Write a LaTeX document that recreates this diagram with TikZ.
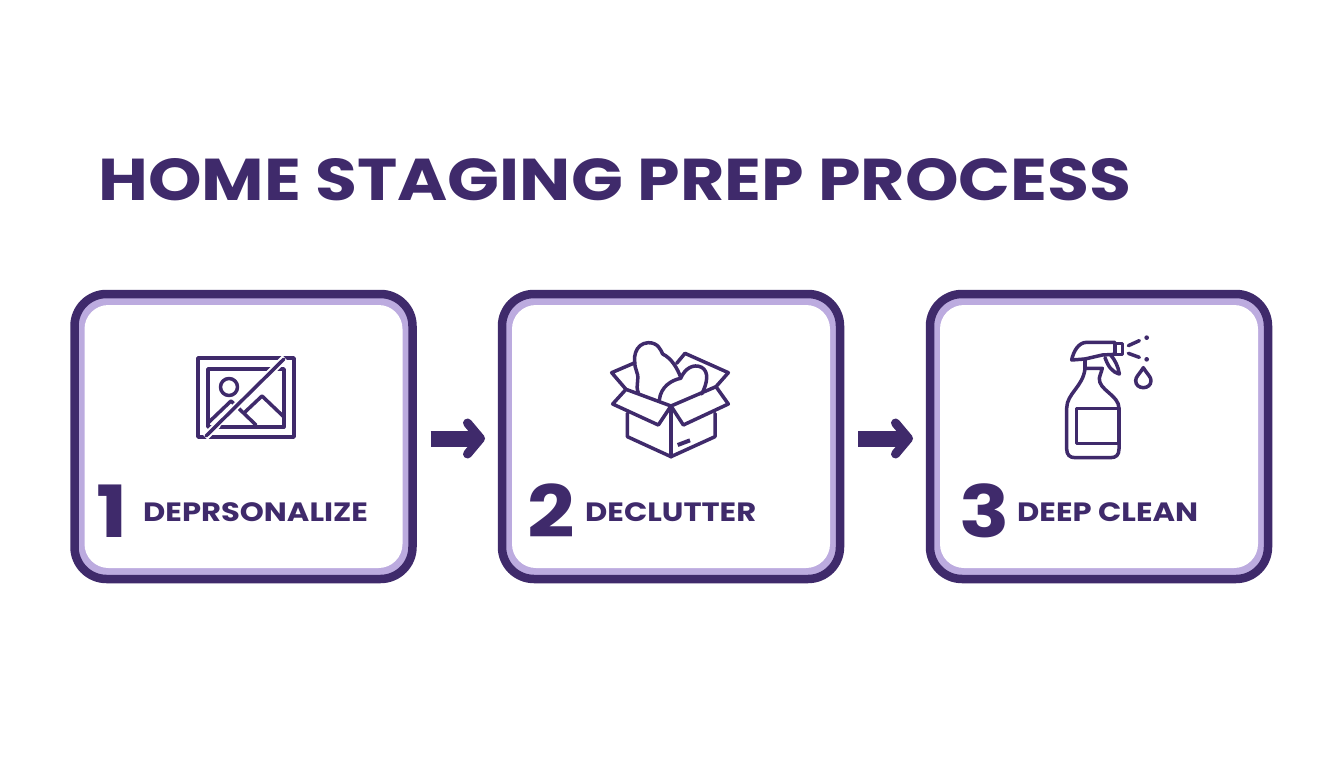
\documentclass[tikz,border=0pt]{standalone}
\usepackage{fontspec}
\setmainfont{Poppins}[FakeStretch=1.155]
\usetikzlibrary{arrows.meta}
\definecolor{plum}{HTML}{3F2A6B}
\definecolor{lav}{HTML}{BCABDF}
\tikzset{
  x=1pt,y=-1pt,
  card/.style={draw=plum,fill=lav,line width=8.5pt,rounded corners=32pt,minimum width=338pt,minimum height=285pt,outer sep=0pt,inner sep=0pt},
  cardin/.style={fill=white,rounded corners=24pt,minimum width=318pt,minimum height=263pt,outer sep=0pt,inner sep=0pt},
  flow/.style={plum,line width=16pt,-{Straight Barb[length=13pt,width=31pt,line width=9pt,round,line join=round]}},
  icon/.style={plum,line width=3.5pt,line join=round,line cap=round},
  title/.style={plum,anchor=base west,inner sep=0pt,font=\fontsize{59}{59}\selectfont\bfseries},
  num/.style={plum,anchor=base west,inner sep=0pt,font=\fontsize{72}{72}\selectfont\bfseries},
  lbl/.style={plum,anchor=base west,inner sep=0pt,font=\fontsize{26.5}{26.5}\selectfont\bfseries},
}
\begin{document}
\begin{tikzpicture}
\useasboundingbox[fill=white] (0,0) rectangle (1344,768);
\node[title] (ttl) at (98,200) {HOME STAGING PREP PROCESS};
\node[card] (c1) at (243.5,436.5) {};
\node[card] (c2) at (671,436.5) {};
\node[card] (c3) at (1099,436.5) {};
\node[cardin] (w1) at (c1) {};
\node[cardin] (w2) at (c2) {};
\node[cardin] (w3) at (c3) {};
\draw[flow] ([xshift=18pt,yshift=-2pt]c1.east) -- ([xshift=-17pt,yshift=-2pt]c2.west);
\draw[flow] ([xshift=18pt,yshift=-2pt]c2.east) -- ([xshift=-17pt,yshift=-2pt]c3.west);
% picture icon
\begin{scope}[icon]
\draw (198,358) rectangle (294,437);
\draw (208,369) rectangle (284,427);
\draw (229,387) circle (8.5);
\draw (208,423) -- (231,401) -- (256,425);
\draw (245,412) -- (262,396) -- (284,417);
\draw[white,line width=7.5pt,line cap=butt] (285,358) -- (205,437);
\draw (284,359) -- (206,436);
\draw (222,427) -- (284,427);
\end{scope}
% box icon
\begin{scope}[icon,shift={(590,330)},scale=1/3]
\draw (112,250) -- (112,320) -- (243,380) -- (375,320) -- (375,250);
\draw (243,228) -- (243,380);
\draw (243,228) -- (205,285) -- (68,222) -- (108,178) -- cycle;
\draw (243,228) -- (280,285) -- (415,222) -- (378,170) -- cycle;
\draw (108,178) -- (65,128) -- (135,98);
\draw (260,100) -- (285,70) -- (415,128) -- (378,170);
\draw (145,188) .. controls (135,165) and (150,150) .. (140,125) .. controls (125,85) and (135,40) .. (175,38) .. controls (205,38) and (212,60) .. (218,72) .. controls (245,85) and (262,115) .. (272,142);
\draw (208,210) .. controls (212,170) and (245,150) .. (272,145) .. controls (285,115) and (310,100) .. (335,112) .. controls (358,125) and (352,160) .. (335,192);
\draw[line width=4pt,line cap=butt] (263,345) -- (300,331);
\end{scope}
% spray icon
\begin{scope}[icon,shift={(1040,325)},scale=1/3]
\draw (135,130) .. controls (130,185) and (80,205) .. (80,250) -- (80,372) .. controls (80,390) and (90,398) .. (105,398) -- (212,398) .. controls (228,398) and (237,390) .. (237,372) -- (237,250) .. controls (237,210) and (175,195) .. (178,160) .. controls (180,148) and (185,140) .. (187,130) -- cycle;
\draw (110,250) rectangle (237,355);
\draw (135,130) -- (135,102);
\draw (135,102) -- (95,105) .. controls (100,80) and (115,52) .. (140,52) -- (225,52) -- (225,88) -- (187,90) -- (135,102);
\draw (225,55) rectangle (248,88);
\draw (195,98) .. controls (205,125) and (215,140) .. (238,147) .. controls (235,125) and (225,105) .. (212,90);
\draw (265,62) -- (298,47);
\draw (265,85) -- (298,97);
\fill (320,38) circle (7);
\fill (320,103) circle (7);
\draw (310,128) .. controls (298,148) and (287,155) .. (287,167) .. controls (287,195) and (333,195) .. (333,167) .. controls (333,155) and (322,148) .. (310,128) -- cycle;
\end{scope}
\node[num] (n1) at (96,537) {1};
\node[lbl] (l1) at (143,521) {DEPRSONALIZE};
\node[num] (n2) at (527,537) {2};
\node[lbl] (l2) at (585,521) {DECLUTTER};
\node[num] (n3) at (959,537) {3};
\node[lbl] (l3) at (1017,521) {DEEP CLEAN};
\end{tikzpicture}
\end{document}
